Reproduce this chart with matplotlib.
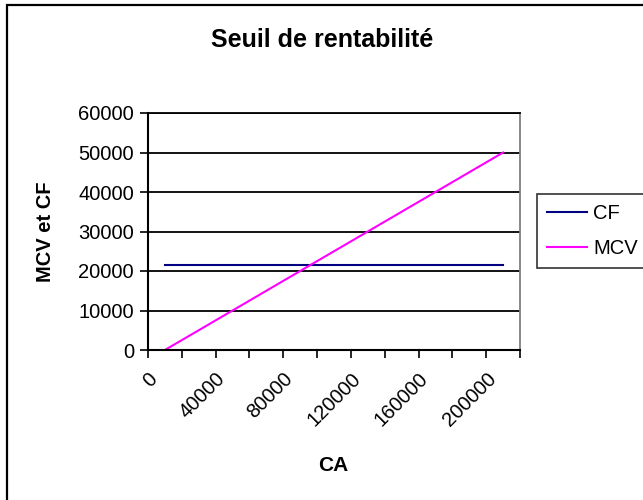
import numpy as np
import matplotlib.pyplot as plt
from matplotlib.patches import Rectangle

plt.rcParams['font.family'] = ['Liberation Sans', 'DejaVu Sans']

# values
ca = [10000, 30000, 50000, 70000, 90000, 110000, 130000, 150000, 170000, 190000, 210000]
cf = [21500, 21500, 21500, 21500, 21500, 21500, 21500, 21500, 21500, 21500, 21500]
mcv = [0, 5000, 10000, 15000, 20000, 25000, 30000, 35000, 40000, 45000, 50000]

x_ticks = list(range(0, 220001, 20000))
x_labels = [str(t) if t % 40000 == 0 else '' for t in x_ticks]
y_ticks = list(range(0, 60001, 10000))

W, H = 643, 500
fig = plt.figure(figsize=(W / 100, H / 100), dpi=100)

# outer chart border
fig.patches.append(Rectangle((7 / W, -0.1), 1.2, 1.1 - 5 / H, transform=fig.transFigure,
                             fill=False, edgecolor='black', linewidth=1.6, clip_on=False))

ax = fig.add_axes([148 / W, 1 - 350 / H, (520 - 148) / W, (350 - 113) / H])

ax.plot(ca, cf, color='#000080', linewidth=1.5, label='CF')
ax.plot(ca, mcv, color='#ff00ff', linewidth=1.5, label='MCV')

ax.set_xlim(0, 220000)
ax.set_ylim(0, 60000)
ax.set_xticks(x_ticks)
ax.set_xticklabels(x_labels, rotation=45, ha='right', va='top', rotation_mode='anchor')
ax.set_yticks(y_ticks)
ax.set_yticklabels([str(t) for t in y_ticks])
ax.tick_params(axis='both', labelsize=14.5, direction='out', length=6, width=1.2, color='black')
ax.tick_params(axis='x', pad=8)
ax.tick_params(axis='y', pad=4)

ax.grid(axis='y', color='black', linewidth=1.3)
ax.set_axisbelow(True)
for side in ['left', 'bottom']:
    ax.spines[side].set_color('black')
    ax.spines[side].set_linewidth(1.5)
ax.spines['top'].set_color('black')
ax.spines['top'].set_linewidth(1.3)
ax.spines['right'].set_color('#808080')
ax.spines['right'].set_linewidth(1.3)

ax.set_xlabel('CA', fontsize=15, fontweight='bold', va='center')
ax.xaxis.set_label_coords((333 - 148) / 372, (350 - 466) / 237)
ax.set_ylabel('MCV et CF', fontsize=14.5, fontweight='bold', va='center')
ax.yaxis.set_label_coords((45 - 148) / 372, 0.5)
fig.text(322 / W, 1 - 40 / H, 'Seuil de rentabilité', fontsize=18, fontweight='bold',
         ha='center', va='center')

leg = ax.legend(loc='upper left', bbox_to_anchor=(537 / W, 1 - 194 / H), bbox_transform=fig.transFigure,
                frameon=True, fancybox=False, edgecolor='black', fontsize=14.5,
                handlelength=2.0, handletextpad=0.3, borderpad=0.5, labelspacing=0.8,
                borderaxespad=0)
leg.get_frame().set_linewidth(1.2)

fig.savefig('out.png', dpi=100)
